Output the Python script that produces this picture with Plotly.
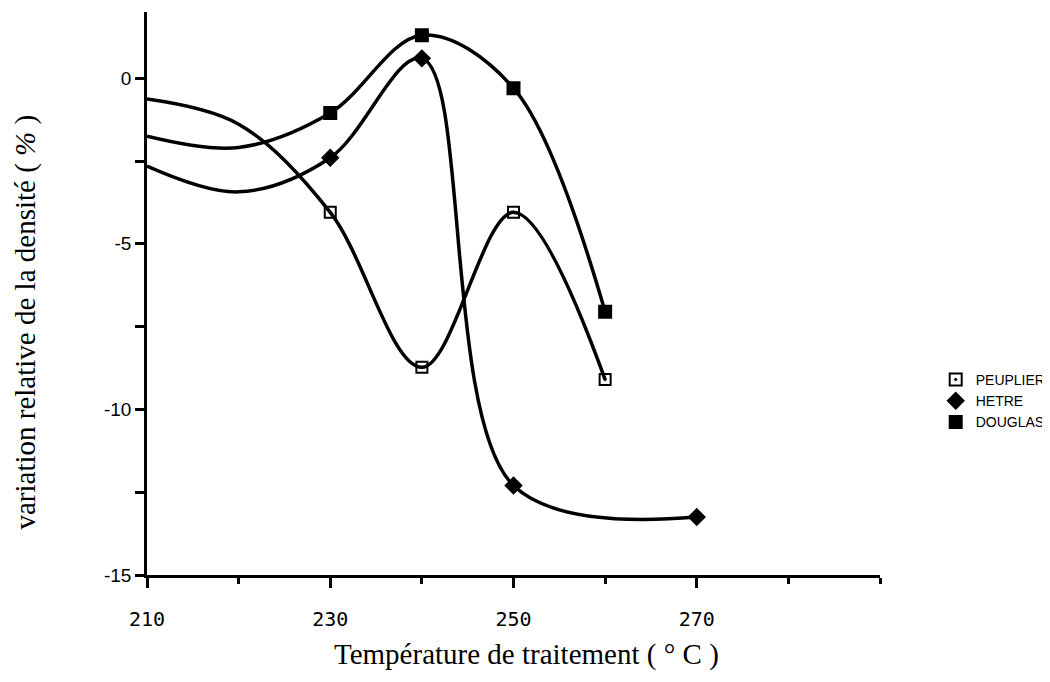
import plotly.graph_objects as go

# Temperatures of the curves (curve drawn from the axis at 210)
temps_curve = [210, 220, 230, 240, 250, 260]
temps_hetre = [210, 220, 230, 240, 250, 270]

# Values (variation relative de la densité, %)
peuplier = [-0.63, -1.39, -4.05, -8.73, -4.05, -9.1]
hetre = [-2.65, -3.43, -2.4, 0.6, -12.3, -13.25]
douglas = [-1.75, -2.09, -1.05, 1.3, -0.3, -7.05]

x_tick_labels = [210, 230, 250, 270]
y_tick_labels = [0, -5, -10, -15]

x_title = "Température de traitement ( ° C )"
y_title = "variation relative de la densité ( <i>%</i> )"

# measured points (with markers) start at 230
marker_start = 2

series = [
    ("PEUPLIER", temps_curve, peuplier, "square-open-dot", 11),
    ("HETRE", temps_hetre, hetre, "diamond", 12),
    ("DOUGLAS", temps_curve, douglas, "square", 12),
]

fig = go.Figure()
for name, xs, ys, sym, size in series:
    fig.add_trace(go.Scatter(
        x=xs, y=ys, mode="lines", showlegend=False,
        line=dict(color="black", width=3.5, shape="spline", smoothing=1.0),
        hoverinfo="skip",
    ))
for name, xs, ys, sym, size in series:
    fig.add_trace(go.Scatter(
        x=xs[marker_start:], y=ys[marker_start:], mode="markers", name=name,
        marker=dict(symbol=sym, size=size, color="black",
                    line=dict(color="black", width=2)),
    ))

title_font = dict(family="Liberation Serif, Times New Roman", size=29, color="black")

# the page adds an 8 px body margin, so the figure is 8 px smaller
fig.update_layout(
    width=1042, height=674,
    paper_bgcolor="white", plot_bgcolor="white",
    margin=dict(l=139, r=170, t=4, b=107, autoexpand=False),
    font=dict(family="Liberation Sans, Arial", color="black"),
    legend=dict(
        x=1.076, y=0.375, xanchor="left", yanchor="top",
        font=dict(family="Liberation Sans Narrow, Liberation Sans", size=14, color="black"),
        itemsizing="constant", tracegroupgap=0, bgcolor="rgba(0,0,0,0)",
    ),
    xaxis=dict(
        range=[210, 290], tickmode="array", tickvals=x_tick_labels,
        ticktext=[str(v) for v in x_tick_labels],
        showgrid=False, zeroline=False, automargin=False,
        showline=True, linecolor="black", linewidth=2.5,
        ticks="outside", ticklen=10, tickwidth=2.5, tickcolor="black",
        ticklabelstandoff=14,
        minor=dict(dtick=10, tick0=210, ticks="outside", ticklen=6, tickwidth=2.5, tickcolor="black", showgrid=False),
        tickfont=dict(family="DejaVu Sans Mono", size=20, color="black"),
    ),
    yaxis=dict(
        range=[-15, 2], tickmode="array", tickvals=y_tick_labels,
        ticktext=[str(v) for v in y_tick_labels],
        showgrid=False, zeroline=False, automargin=False,
        showline=True, linecolor="black", linewidth=2.5,
        ticks="outside", ticklen=9, tickwidth=2.5, tickcolor="black",
        minor=dict(dtick=2.5, tick0=-15, ticks="outside", ticklen=9, tickwidth=2.5, tickcolor="black", showgrid=False),
        tickfont=dict(family="Liberation Sans, Arial", size=19, color="black"),
    ),
    annotations=[
        dict(text=x_title, xref="paper", yref="paper", x=0.518, y=-0.142,
             xanchor="center", yanchor="middle", showarrow=False, font=title_font),
        dict(text=y_title, xref="paper", yref="paper", x=-0.166, y=0.449,
             xanchor="center", yanchor="middle", textangle=-90, showarrow=False, font=title_font),
    ],
)

fig.write_html("out.html")
